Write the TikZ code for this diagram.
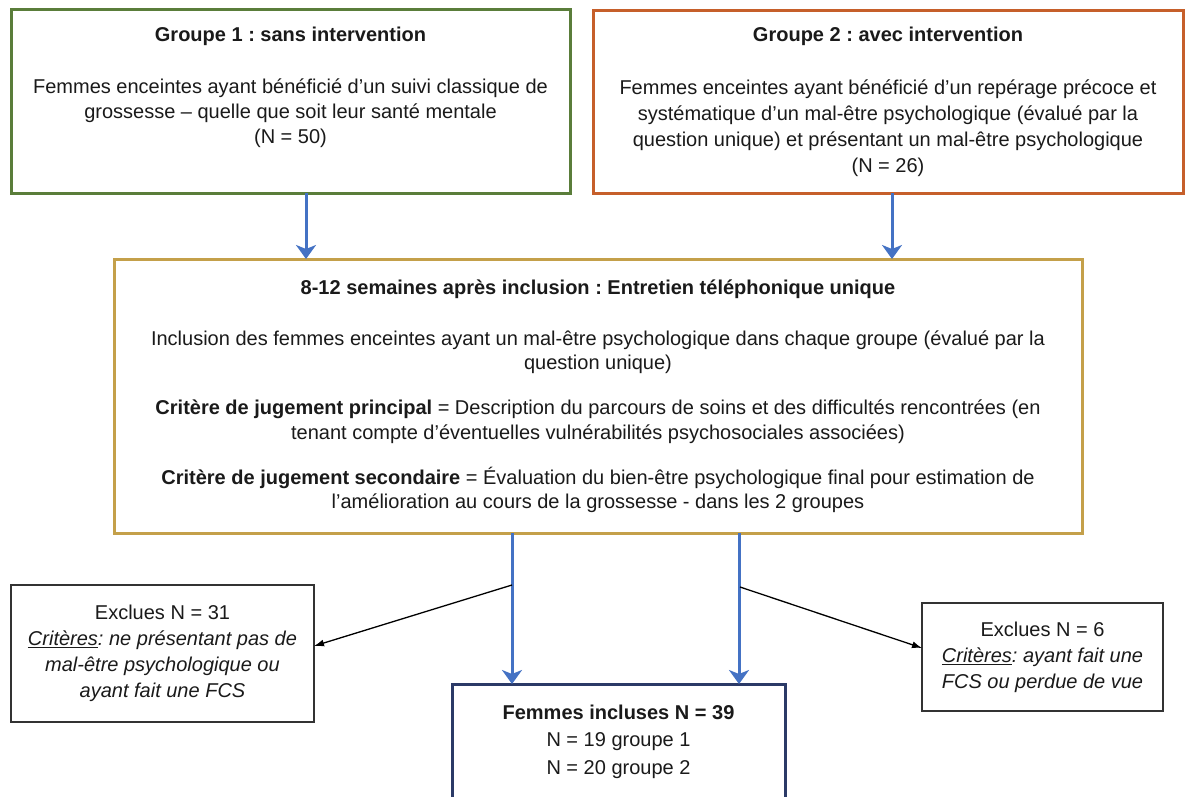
\documentclass[tikz,border=0pt]{standalone}
\usepackage{fontspec}
\setmainfont{Liberation Sans}
\usetikzlibrary{arrows.meta,calc}
\frenchspacing
\definecolor{gcol}{HTML}{5A7D3A}
\definecolor{ocol}{HTML}{C65F2A}
\definecolor{ycol}{HTML}{C4A04A}
\definecolor{bcol}{HTML}{4472C4}
\definecolor{ncol}{HTML}{2B3A67}
\definecolor{kcol}{HTML}{333333}
\definecolor{textc}{HTML}{1A1A1A}
\begin{document}
\begin{tikzpicture}[x=1pt,y=-1pt,
  box/.style={draw=#1, line width=3pt, inner sep=0pt, outer sep=0pt, fill=white},
  exbox/.style={draw=kcol, line width=2.5pt, inner sep=0pt, outer sep=0pt, fill=white,
    align=center, text=textc, font=\fontsize{20}{26}\selectfont},
  txt/.style={inner sep=0pt, outer sep=0pt, align=center, text=textc,
    font=\fontsize{20}{25}\selectfont},
  barrow/.style={draw=bcol, line width=3pt, -{Stealth[length=14pt,width=20pt,inset=4pt]}},
  karrow/.style={draw=black, line width=1.3pt, -{Latex[length=10pt,width=7pt]}}]
\useasboundingbox (0,0) rectangle (1185,796);
\clip (0,0) rectangle (1185,796);
\fill[white] (0,0) rectangle (1185,796);

% boxes
\node[box=gcol, minimum width=559pt, minimum height=184pt] (g1) at (290.5,101) {};
\node[box=ocol, minimum width=590pt, minimum height=183pt] (g2) at (888,101.5) {};
\node[box=ycol, minimum width=968pt, minimum height=274pt] (mid) at (598,396) {};
\node[box=ncol, minimum width=333pt, minimum height=152pt] (incl) at (618.5,760) {};
\node[exbox, minimum width=303pt, minimum height=137pt] (exl) at (162.5,653.5)
  {Exclues N = 31\\
   \textit{\underline{Critères}: ne présentant pas de}\\
   \textit{mal-être psychologique ou}\\
   \textit{ayant fait une FCS}};
\node[exbox, minimum width=241pt, minimum height=108pt] (exr) at (1042.5,657)
  {Exclues N = 6\\
   \textit{\underline{Critères}: ayant fait une}\\
   \textit{FCS ou perdue de vue}};

% texts
\node[txt, anchor=north] (g1t) at ([yshift=-18.4pt]g1.north)
  {\textbf{Groupe 1 : sans intervention}\\[27pt]
   Femmes enceintes ayant bénéficié d’un suivi classique de\\
   grossesse – quelle que soit leur santé mentale\\
   (N = 50)};
\node[txt, anchor=north, font=\fontsize{20}{26}\selectfont] (g2t) at ([yshift=-17.4pt]g2.north)
  {\textbf{Groupe 2 : avec intervention}\\[27pt]
   Femmes enceintes ayant bénéficié d’un repérage précoce et\\
   systématique d’un mal-être psychologique (évalué par la\\
   question unique) et présentant un mal-être psychologique\\
   (N = 26)};
\node[txt, anchor=north, font=\fontsize{20}{24.5}\selectfont] (midt) at ([yshift=-20.4pt]mid.north)
  {\textbf{8-12 semaines après inclusion : Entretien téléphonique unique}\\[26.5pt]
   Inclusion des femmes enceintes ayant un mal-être psychologique dans chaque groupe (évalué par la\\
   question unique)\\[20.5pt]
   \textbf{Critère de jugement principal} = Description du parcours de soins et des difficultés rencontrées (en\\
   tenant compte d’éventuelles vulnérabilités psychosociales associées)\\[20.5pt]
   \textbf{Critère de jugement secondaire} = Évaluation du bien-être psychologique final pour estimation de\\
   l’amélioration au cours de la grossesse - dans les 2 groupes};
\node[txt, anchor=north, font=\fontsize{20}{27.5}\selectfont] (inclt) at ([yshift=-20.5pt]incl.north)
  {\textbf{Femmes incluses N = 39}\\
   N = 19 groupe 1\\
   N = 20 groupe 2};

% connectors
\draw[barrow] ([xshift=15.5pt]g1.south) -- ([xshift=15.5pt]g1.south |- mid.north);
\draw[barrow] ([xshift=4pt]g2.south) -- ([xshift=4pt]g2.south |- mid.north);
\draw[barrow] ([xshift=-86pt]mid.south) -- ([xshift=-86pt]mid.south |- incl.north);
\draw[barrow] ([xshift=141pt]mid.south) -- ([xshift=141pt]mid.south |- incl.north);
\coordinate (s1) at (512,585);
\coordinate (s2) at (740,587);
\draw[karrow] (s1) -- ([yshift=7.5pt]exl.east);
\draw[karrow] (s2) -- ([yshift=9pt]exr.west);
\end{tikzpicture}
\end{document}
